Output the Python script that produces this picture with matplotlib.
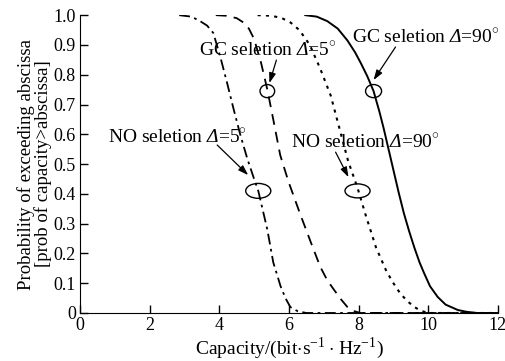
import matplotlib
matplotlib.use("Agg")
import matplotlib.pyplot as plt
from matplotlib.patches import Ellipse

plt.rcParams["font.family"] = ["Liberation Serif", "DejaVu Serif"]
plt.rcParams["mathtext.fontset"] = "custom"
plt.rcParams["mathtext.rm"] = "Liberation Serif"
plt.rcParams["mathtext.cal"] = "Liberation Serif:italic"
plt.rcParams["font.size"] = 14

# values
no5_x = [2.85, 3.2, 3.45, 3.65, 3.83, 4.03, 4.23, 4.4, 4.6, 4.8, 5.0, 5.12, 5.25, 5.38, 5.55,
         5.76, 5.9, 6.04, 6.25, 6.5, 12.0]
no5_y = [1.0, 0.995, 0.98, 0.965, 0.94, 0.86, 0.77, 0.69, 0.6, 0.52, 0.45, 0.41, 0.345, 0.28,
         0.17, 0.09, 0.05, 0.02, 0.006, 0.0, 0.0]

gc5_x = [3.9, 4.2, 4.5, 4.7, 4.85, 5.0, 5.2, 5.38, 5.55, 5.75, 5.99, 6.33, 6.62, 6.9, 7.1, 7.3,
         7.5, 7.68, 7.85, 8.05, 12.0]
gc5_y = [1.0, 0.998, 0.99, 0.975, 0.955, 0.92, 0.84, 0.75, 0.65, 0.53, 0.44, 0.33, 0.24, 0.155,
         0.11, 0.077, 0.045, 0.02, 0.007, 0.0, 0.0]

no90_x = [5.1, 5.5, 5.8, 6.05, 6.3, 6.6, 6.9, 7.2, 7.45, 7.7, 7.97, 8.2, 8.5, 8.8, 9.0, 9.2,
          9.4, 9.6, 9.8, 10.0, 12.0]
no90_y = [1.0, 0.998, 0.99, 0.975, 0.95, 0.9, 0.82, 0.73, 0.62, 0.51, 0.42, 0.33, 0.22, 0.14,
          0.1, 0.065, 0.04, 0.02, 0.007, 0.0, 0.0]

gc90_x = [6.47, 6.8, 7.1, 7.4, 7.68, 7.9, 8.06, 8.25, 8.43, 8.6, 8.72, 8.86, 9.0, 9.15, 9.3,
          9.45, 9.6, 9.75, 9.88, 10.05, 10.27, 10.5, 10.85, 11.1, 11.4, 12.0]
gc90_y = [1.0, 0.995, 0.98, 0.955, 0.915, 0.875, 0.84, 0.795, 0.745, 0.675, 0.62, 0.55, 0.48,
          0.405, 0.335, 0.275, 0.22, 0.17, 0.134, 0.09, 0.054, 0.028, 0.01, 0.004, 0.0, 0.0]

fig = plt.figure(figsize=(5.06, 3.61), dpi=100)
ax = fig.add_axes([0.158, 0.133, 0.826, 0.825])

ax.plot(no5_x, no5_y, color="black", lw=1.3, dashes=(6, 2.5, 1.5, 2.5))
ax.plot(gc5_x, gc5_y, color="black", lw=1.3, dashes=(6, 4))
ax.plot(no90_x, no90_y, color="black", lw=1.5, dashes=(1.5, 2.5))
ax.plot(gc90_x, gc90_y, color="black", lw=1.4)

ax.set_xlim(0, 12)
ax.set_ylim(0, 1.0)
ax.set_xticks(range(0, 13, 2))
ax.set_yticks([i / 10 for i in range(11)])
ax.set_yticklabels(["0"] + ["%.1f" % (i / 10) for i in range(1, 11)])
ax.tick_params(direction="in", length=6, width=1, pad=3, labelsize=13)
ax.spines["top"].set_visible(False)
ax.spines["right"].set_visible(False)

ax.set_xlabel("Capacity/(bit$\\cdot$s$^{-1}\\cdot$Hz$^{-1}$)", labelpad=1)
ax.set_ylabel("Probability of exceeding abscissa\n[prob of capacity>abscissa]",
              labelpad=1, linespacing=0.95, fontsize=13.5)

# ellipse markers
for cx, cy, w, h in [(5.12, 0.41, 0.72, 0.05), (5.38, 0.745, 0.42, 0.044),
                     (7.97, 0.41, 0.72, 0.047), (8.43, 0.745, 0.46, 0.044)]:
    ax.add_patch(Ellipse((cx, cy), w, h, fill=False, lw=1.0, color="black"))

labels = ["GC seletion $\\mathcal{Δ}$=5$^{\\circ}$", "GC seletion $\\mathcal{Δ}$=90$^{\\circ}$",
          "NO seletion $\\mathcal{Δ}$=5$^{\\circ}$", "NO seletion $\\mathcal{Δ}$=90$^{\\circ}$"]
label_pos = [(5.4, 0.883), (9.93, 0.926), (2.79, 0.59), (8.2, 0.574)]
arrow_from = [(5.64, 0.849), (9.06, 0.893), (3.94, 0.564), (7.34, 0.540)]
arrow_to = [(5.44, 0.772), (8.43, 0.782), (4.83, 0.463), (7.71, 0.456)]

arrow = dict(arrowstyle="-|>,head_length=0.6,head_width=0.2", color="black", lw=0.9,
             mutation_scale=10, shrinkA=0, shrinkB=0)
for txt, pos, a, b in zip(labels, label_pos, arrow_from, arrow_to):
    ax.text(pos[0], pos[1], txt, ha="center", va="center")
    ax.annotate("", xy=b, xytext=a, arrowprops=arrow)

fig.savefig("out.png", dpi=100)
